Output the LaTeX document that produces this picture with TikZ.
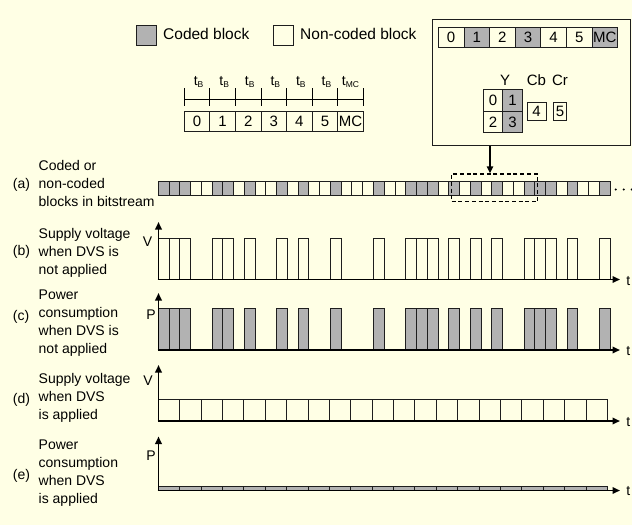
\documentclass[tikz,border=0pt]{standalone}
\usepackage{fontspec}
\setmainfont{Liberation Sans}
\usetikzlibrary{arrows.meta}
\definecolor{bg}{RGB}{255,255,229}
\definecolor{cG}{RGB}{178,178,178}
\definecolor{cW}{RGB}{255,255,229}
\definecolor{ln}{RGB}{30,30,30}
\begin{document}
\begin{tikzpicture}[x=1pt,y=-1pt,
  blk/.style={draw=ln, line width=0.8pt},
  cell/.style={draw=ln, line width=0.8pt, inner sep=0pt, font=\fontsize{15}{18}\selectfont},
  lbl/.style={font=\fontsize{14}{18}\selectfont, inner sep=0pt, align=left},
  leg/.style={font=\fontsize{15.5}{18}\selectfont, inner sep=0pt},
  axlbl/.style={font=\fontsize{14}{18}\selectfont, inner sep=0pt, anchor=base},
  axisline/.style={line width=1.8pt, draw=black, -{Triangle[length=7.5pt,width=6.5pt]}},
  tlbl/.style={font=\fontsize{14}{18}\selectfont, inner sep=0pt, anchor=base}
]
\fill[bg] (0,0) rectangle (632,525);
\useasboundingbox (0,0) rectangle (632,525);

% ---------- legend
\node[cell, fill=cG, minimum width=20.7pt, minimum height=20pt] (legG) at (146.3,35) {};
\node[leg, anchor=base west] (legGt) at (163,39.3) {Coded block};
\node[cell, fill=cW, minimum width=20pt, minimum height=20pt] (legW) at (283.3,35.5) {};
\node[leg, anchor=base west] (legWt) at (300,39.3) {Non-coded block};

% ---------- timing scale
\draw[line width=0.9pt, black] (184.3,99.3) -- (363.3,99.3);
\foreach \k in {0,...,7} {
  \draw[line width=0.9pt, black] ({184.3+25.57*\k},88.3) -- ({184.3+25.57*\k},106);
}
\foreach \k in {0,...,5} {
  \node[tlbl] (tb\k) at ({184.3+25.57*\k+12.8+1.5},85) {t\raisebox{-2.3pt}{\fontsize{8.5}{9}\selectfont B}};
}
\node[tlbl] (tmc) at ({184.3+25.57*6+12.8},85) {t\raisebox{-2.3pt}{\fontsize{8.5}{9}\selectfont MC}};
\foreach \t [count=\k from 0] in {0,1,2,3,4,5,MC} {
  \node[cell, fill=cW, minimum width=25.57pt, minimum height=20pt] (tc\k) at ({184.3+25.57*\k+12.79},121.7) {\t};
}

% ---------- inset
\node[draw=ln, line width=0.9pt, minimum width=198pt, minimum height=126.4pt, inner sep=0pt] (inset) at (531.7,82.5) {};
\foreach \t/\c [count=\k from 0] in {0/W,1/G,2/W,3/G,4/W,5/W,MC/G} {
  \node[cell, fill=c\c, minimum width=25.63pt, minimum height=20.4pt] (ic\k) at ({438.3+25.63*\k+12.815},37.5) {\t};
}
\node[axlbl, font=\fontsize{15}{18}\selectfont] (ylab) at (505,85) {Y};
\node[axlbl, font=\fontsize{15}{18}\selectfont] (cblab) at (536.5,85) {Cb};
\node[axlbl, font=\fontsize{15}{18}\selectfont] (crlab) at (560,85) {Cr};
\node[cell, fill=cW, minimum width=19.5pt, minimum height=21.7pt] (y0) at (493.05,100.15) {0};
\node[cell, fill=cG, minimum width=19.5pt, minimum height=21.7pt] (y1) at (512.55,100.15) {1};
\node[cell, fill=cW, minimum width=19.5pt, minimum height=21.7pt] (y2) at (493.05,121.85) {2};
\node[cell, fill=cG, minimum width=19.5pt, minimum height=21.7pt] (y3) at (512.55,121.85) {3};
\node[cell, fill=cW, minimum width=18.7pt, minimum height=18pt] (cb) at (536.65,111.7) {4};
\node[cell, fill=cW, minimum width=13.4pt, minimum height=18pt] (cr) at (560,111.7) {5};

% ---------- (a) bitstream
\foreach \c [count=\i from 0] in {G,G,G,W,W,G,G,W,G,W,W,G,W,G,W,W,G,W,W,W,G,W,W,G,G,G,W,G,W,G,W,G,W,W,G,G,G,W,G,W,W,G} {
  \draw[blk, fill=c\c] ({158.3+10.755*\i},181.7) rectangle ++(10.755,13.3);
}
\foreach \k in {0,1,2} {
  \fill[black] ({615.7+8*\k},189.5) circle (1.1pt);
}
\node[draw=black, dashed, dash pattern=on 4pt off 2.7pt, line width=1.4pt, minimum width=86pt, minimum height=27.7pt, inner sep=0pt] (zoombox) at (494.7,187.85) {};
\draw[line width=1.4pt, black, -{Triangle[length=7pt,width=6.5pt]}] ([xshift=-4.7pt]zoombox.north |- inset.south) -- ([xshift=-4.7pt]zoombox.north);

% ---------- (b) supply voltage, no DVS
\foreach \i in {0,1,2,5,6,8,11,13,16,20,23,24,25,27,29,31,34,35,36,38,41} {
  \draw[blk] ({158.3+10.755*\i},279.5) rectangle ++(10.755,-41.2);
}
\draw[axisline] (158.5,279.5) -- (158.5,222);
\draw[axisline] (157.6,279.5) -- (620,279.5);
\node[axlbl] (vb) at (147.5,246) {V};
\node[tlbl] (tb) at (628.3,285) {t};

% ---------- (c) power, no DVS
\foreach \i in {0,1,2,5,6,8,11,13,16,20,23,24,25,27,29,31,34,35,36,38,41} {
  \draw[blk, fill=cG] ({158.3+10.755*\i},350) rectangle ++(10.755,-42);
}
\draw[axisline] (158.5,350) -- (158.5,293);
\draw[axisline] (157.6,350) -- (620,350);
\node[axlbl] (pc) at (151,319) {P};
\node[tlbl] (tc) at (628.3,355) {t};

% ---------- (d) supply voltage, DVS
\foreach \i in {0,...,20} {
  \draw[blk] ({158.3+21.38*\i},421) rectangle ++(21.38,-21.7);
}
\draw[axisline] (158.5,421) -- (158.5,365);
\draw[axisline] (157.6,421) -- (620,421);
\node[axlbl] (vd) at (148,385) {V};
\node[tlbl] (td) at (628.3,426.7) {t};

% ---------- (e) power, DVS
\foreach \i in {0,...,20} {
  \draw[blk, fill=cG] ({158.3+21.38*\i},490.5) rectangle ++(21.38,-4);
}
\draw[axisline] (158.5,490.5) -- (158.5,436.5);
\draw[axisline] (157.6,490.5) -- (620,490.5);
\node[axlbl] (pe) at (151,460) {P};
\node[tlbl] (te) at (628.3,495) {t};

% ---------- left labels
\node[lbl, anchor=base west] (pa) at (12.7,188) {(a)};
\node[lbl, anchor=north west] (la) at (38.5,160) {Coded or\\non-coded\\blocks in bitstream};
\node[lbl, anchor=base west] (pb) at (12.7,255.5) {(b)};
\node[lbl, anchor=north west] (lb) at (38.5,228) {Supply voltage\\when DVS is\\not applied};
\node[lbl, anchor=base west] (pcl) at (12.7,320.5) {(c)};
\node[lbl, anchor=north west] (lc) at (38.5,290) {Power\\consumption\\when DVS is\\not applied};
\node[lbl, anchor=base west] (pd) at (12.7,403) {(d)};
\node[lbl, anchor=north west] (ld) at (38.5,373.5) {Supply voltage\\when DVS\\is applied};
\node[lbl, anchor=base west] (pe) at (12.7,479) {(e)};
\node[lbl, anchor=north west] (le) at (38.5,440) {Power\\consumption\\when DVS\\is applied};
\end{tikzpicture}
\end{document}
